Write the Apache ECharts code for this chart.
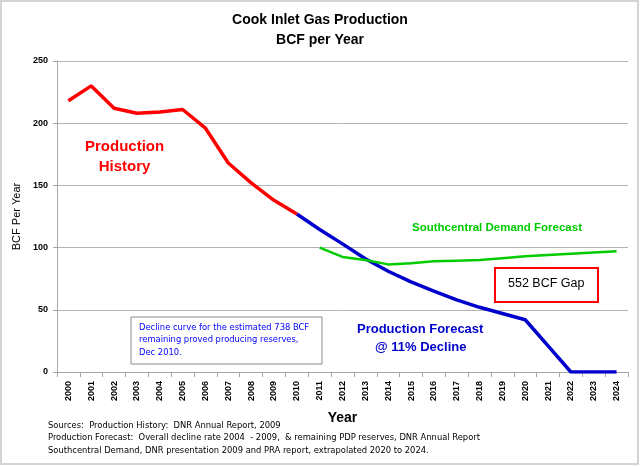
<!DOCTYPE html>
<html>
<head>
<meta charset="utf-8">
<script src="https://cdn.jsdelivr.net/npm/echarts@6/dist/echarts.min.js"></script>
<style>
  html, body { margin: 0; padding: 0; background: #fff; }
  #chart { width: 640px; height: 466px; }
</style>
</head>
<body>
<div id="chart"></div>
<script>
// categories
const years = ['2000', '2001', '2002', '2003', '2004', '2005', '2006', '2007', '2008', '2009', '2010', '2011',
  '2012', '2013', '2014', '2015', '2016', '2017', '2018', '2019', '2020', '2021', '2022', '2023', '2024'];

// BCF per year
const historyYears = ['2000', '2001', '2002', '2003', '2004', '2005', '2006', '2007', '2008', '2009', '2010'];
const history = [218, 230, 212, 208, 209, 211, 196, 168, 152, 138, 127];

const forecastYears = ['2010', '2011', '2012', '2013', '2014', '2015', '2016', '2017', '2018', '2019', '2020',
  '2021', '2022', '2023', '2024'];
const forecast = [127, 114.5, 103, 91, 81, 72.5, 65, 58, 52, 47, 42, 21, 0, 0, 0];

const demandYears = ['2011', '2012', '2013', '2014', '2015', '2016', '2017', '2018', '2019', '2020', '2021',
  '2022', '2023', '2024'];
const demand = [100, 92.5, 90, 86.5, 87.5, 89, 89.5, 90, 91.5, 93, 94, 95, 96, 97];

const yTicks = [0, 50, 100, 150, 200, 250];

const sources = [
  'Sources:  Production History:  DNR Annual Report, 2009',
  'Production Forecast:  Overall decline rate 2004  - 2009,  & remaining PDP reserves, DNR Annual Report',
  'Southcentral Demand, DNR presentation 2009 and PRA report, extrapolated 2020 to 2024.'
];

// put a series onto the full year axis
const onYears = (keys, vals) => years.map((y) => {
  let i = keys.indexOf(y);
  return i < 0 ? null : vals[i];
});

const mainFont = "'Liberation Sans', Arial, sans-serif";
const narrowFont = "'Liberation Sans Narrow', 'DejaVu Sans Condensed', sans-serif";

let chart = echarts.init(document.getElementById('chart'), null, { renderer: 'canvas' });

let option = {
  backgroundColor: '#fff',
  animation: false,
  textStyle: { fontFamily: mainFont },
  title: {
    text: 'Cook Inlet Gas Production\nBCF per Year',
    left: 'center',
    top: 5,
    textStyle: { fontSize: 14, fontWeight: 'bold', color: '#000', lineHeight: 20 }
  },
  grid: { left: 57, right: 12, top: 61, bottom: 94 },
  xAxis: {
    type: 'category',
    data: years,
    boundaryGap: true,
    name: 'Year',
    nameLocation: 'middle',
    nameGap: 39,
    nameTextStyle: { fontSize: 14, fontWeight: 'bold', color: '#000' },
    axisLine: { lineStyle: { color: '#a6a6a6' } },
    axisTick: { show: true, length: 5, alignWithLabel: false, lineStyle: { color: '#a6a6a6' } },
    axisLabel: { rotate: 90, fontSize: 9, fontWeight: 'bold', color: '#000', margin: 9 }
  },
  yAxis: {
    type: 'value',
    min: 0,
    max: 250,
    interval: 50,
    name: 'BCF Per Year',
    nameLocation: 'middle',
    nameGap: 33,
    nameTextStyle: { fontSize: 11, color: '#000' },
    axisLine: { show: true, lineStyle: { color: '#a6a6a6' } },
    axisTick: { show: true, length: 4, lineStyle: { color: '#a6a6a6' } },
    axisLabel: {
      fontSize: 9, fontWeight: 'bold', color: '#000', margin: 9,
      formatter: (v) => yTicks.indexOf(v) >= 0 ? String(v) : ''
    },
    splitLine: { lineStyle: { color: '#b4b4b4', width: 1 } }
  },
  series: [
    {
      name: 'Production History',
      type: 'line',
      data: onYears(historyYears, history),
      showSymbol: false,
      lineStyle: { color: '#ff0000', width: 3.5 },
      z: 3
    },
    {
      name: 'Production Forecast',
      type: 'line',
      data: onYears(forecastYears, forecast),
      showSymbol: false,
      lineStyle: { color: '#0000cc', width: 3.5 },
      z: 2
    },
    {
      name: 'Southcentral Demand Forecast',
      type: 'line',
      data: onYears(demandYears, demand),
      showSymbol: false,
      lineStyle: { color: '#00cc00', width: 2.5 },
      z: 4
    }
  ],
  graphic: [
    // outer frame
    { type: 'rect', shape: { x: 1, y: 1, width: 637, height: 463 }, style: { fill: null, stroke: '#d4d4d4', lineWidth: 2 }, z: 0 },
    {
      type: 'text', left: 85, top: 137,
      style: { text: 'Production\nHistory', fill: '#ff0000', font: "bold 15px " + mainFont, textAlign: 'center', lineHeight: 20, width: 78 }
    },
    {
      type: 'text', left: 412, top: 222,
      style: { text: 'Southcentral Demand Forecast', fill: '#00cc00', font: "bold 11.5px " + mainFont }
    },
    { type: 'rect', shape: { x: 495, y: 268, width: 103, height: 34 }, style: { fill: '#fff', stroke: '#ff0000', lineWidth: 2 } },
    {
      type: 'text', left: 508, top: 277,
      style: { text: '552 BCF Gap', fill: '#000', font: "12.5px " + mainFont }
    },
    {
      type: 'text', left: 357, top: 323,
      style: { text: 'Production Forecast', fill: '#0000cc', font: "bold 13px " + mainFont }
    },
    {
      type: 'text', left: 375, top: 341,
      style: { text: '@ 11% Decline', fill: '#0000cc', font: "bold 13px " + mainFont }
    },
    { type: 'rect', shape: { x: 131, y: 317, width: 191, height: 47 }, style: { fill: '#fff', stroke: '#8c8c8c', lineWidth: 1 } },
    {
      type: 'text', left: 139, top: 321,
      style: {
        text: 'Decline curve for the estimated 738 BCF\nremaining proved producing reserves,\nDec 2010.',
        fill: '#0000ff', font: "9.3px " + narrowFont, lineHeight: 12.5
      }
    },
    {
      type: 'text', left: 48, top: 419,
      style: { text: sources.join('\n'), fill: '#000', font: "9.3px " + narrowFont, lineHeight: 12.5 }
    }
  ]
};

chart.setOption(option);
</script>
</body>
</html>
